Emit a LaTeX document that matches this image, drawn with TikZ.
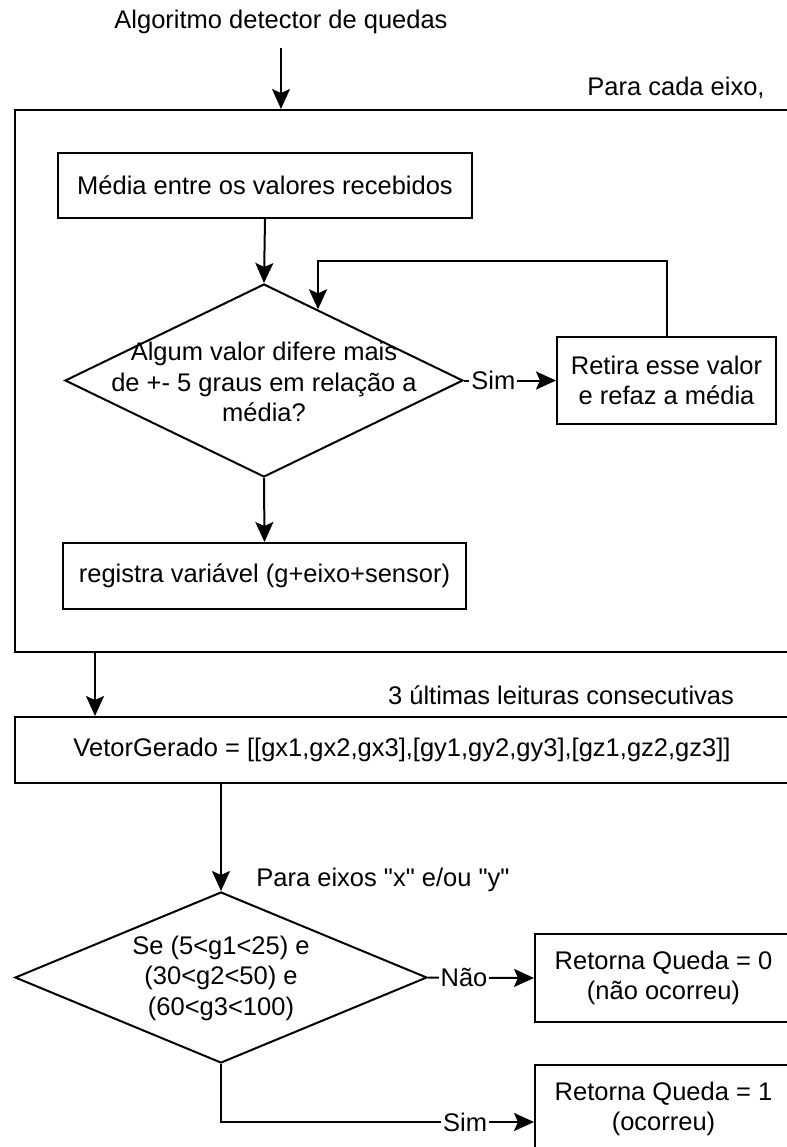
\documentclass[tikz,border=0pt]{standalone}
\usepackage{fontspec}
\setmainfont{Liberation Sans}[Ligatures=TeXOff]
\usetikzlibrary{shapes.geometric,arrows.meta,calc}

\begin{document}
\begin{tikzpicture}[x=0.5pt,y=-0.5pt,
  every node/.style={font=\fontsize{12.75}{15.25}\selectfont, text=black},
  box/.style={draw, line width=1pt, rectangle, inner sep=0pt, align=center},
  decision/.style={draw, line width=1pt, diamond, inner sep=0pt},
  caption/.style={inner sep=1pt, align=center},
  edgelabel/.style={fill=white, inner sep=1pt},
  arr/.style={line width=1pt, -{Stealth[length=10pt,width=9pt,inset=2pt]}}]
\useasboundingbox (0,0) rectangle (787,1147);
\clip (0,0) rectangle (787,1147);

% title and the per-axis block
\node[caption] (title) at (281,22) {Algoritmo detector de quedas};
\node[box, minimum width=388.5pt, minimum height=271pt] (axisblock) at (403.5,381) {};
\node[caption] (axisnote) at (676,88) {Para cada eixo,};

\node[box, minimum width=207pt, minimum height=32.5pt] (mean) at (265,185.5)
  {Média entre os valores recebidos};
\node[decision, minimum width=199pt, minimum height=96.5pt] (check) at (264,380.5) {};
\node[caption] (checktext) at (264,382)
  {Algum valor difere mais\\de +- 5 graus em relação a\\média?};
\node[box, minimum width=109.5pt, minimum height=43.5pt] (remove) at (666.5,380.5)
  {Retira esse valor\\e refaz a média};
\node[box, minimum width=201.5pt, minimum height=33pt] (store) at (264.5,576)
  {registra variável (g+eixo+sensor)};

% vector of readings
\node[caption] (lastnote) at (561,695) {3 últimas leituras consecutivas};
\node[box, minimum width=387pt, minimum height=33pt] (vector) at (402,750)
  {VetorGerado = [[gx1,gx2,gx3],[gy1,gy2,gy3],[gz1,gz2,gz3]]};

% fall test
\node[caption] (xynote) at (383,880) {Para eixos "x" e/ou "y"};
\node[decision, minimum width=206pt, minimum height=85.5pt] (fall) at (221,977.5) {};
\node[caption] (falltext) at (221,978)
  {Se (5<g1<25) e\\(30<g2<50) e\\(60<g3<100)};
\node[box, minimum width=128.5pt, minimum height=44pt] (nofall) at (663.5,978)
  {Retorna Queda = 0\\(não ocorreu)};
\node[box, minimum width=128.5pt, minimum height=44pt] (isfall) at (663.5,1109)
  {Retorna Queda = 1\\(ocorreu)};

% connectors
\draw[arr] ([yshift=-6pt]title.south) -- (title.south |- axisblock.north);
\draw[arr] (mean.south) -- (check.north);
\draw[arr] (check.east) -- node[edgelabel, pos=0.32] {Sim} (remove.west);
\coordinate (reentry) at ($(check.north)!0.27!(check.east)$);
\coordinate (looptop) at ($(reentry)+(0,-48)$);
\draw[arr] (remove.north) |- (looptop) -- (reentry);
\draw[arr] (check.south) -- (store.north);

\coordinate (blockout) at ($(axisblock.south west)+(81,0)$);
\draw[arr] (blockout) -- (blockout |- vector.north);
\draw[arr] (fall.north |- vector.south) -- (fall.north);
\draw[arr] (fall.east) -- node[edgelabel, pos=0.34] {Não} (nofall.west);
\draw[arr] (fall.south) |- node[edgelabel, pos=0.89] {Sim} ([yshift=-6.5pt]isfall.west);
\end{tikzpicture}
\end{document}
